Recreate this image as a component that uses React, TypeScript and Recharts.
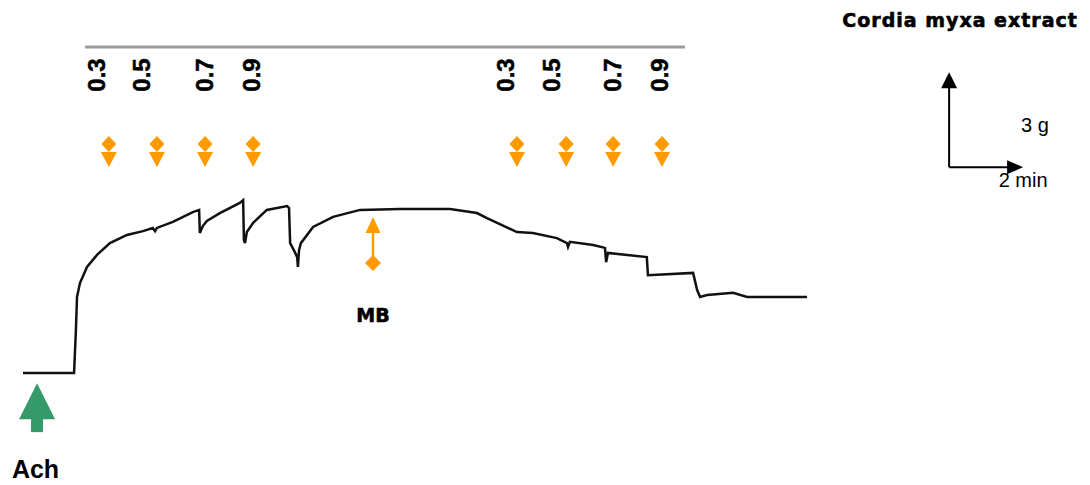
import React from 'react';
import { ComposedChart, Line, Scatter, XAxis, YAxis, ReferenceLine } from 'recharts';

const traceTime = [
  0, 1.38, 1.43, 1.46, 1.54, 1.73, 2.0, 2.35, 2.81, 3.24, 3.51, 3.57, 3.62, 4.05, 4.59, 4.76,
  4.78, 4.86, 4.97, 5.32, 5.86, 5.95, 5.97, 6.0, 6.05, 6.22, 6.59, 7.14, 7.19, 7.22, 7.32,
  7.41, 7.43, 7.46, 7.51, 7.84, 8.38, 9.11, 10.19, 11.54, 12.27, 12.54, 13.35, 13.78, 14.43,
  14.7, 14.73, 14.78, 15.41, 15.73, 15.76, 15.81, 16.86, 16.89, 18.11, 18.22, 18.3, 18.49,
  19.19, 19.57, 20.54, 21.19,
];
const traceTension = [
  0, 0, 1.36, 2.4, 2.84, 3.35, 3.73, 4.1, 4.36, 4.48, 4.58, 4.48, 4.58, 4.77, 5.08, 5.15,
  4.42, 4.64, 4.8, 5.05, 5.37, 5.46, 4.2, 4.1, 4.45, 4.74, 5.15, 5.27, 5.21, 4.1, 3.88,
  3.66, 3.35, 3.88, 4.1, 4.61, 4.93, 5.15, 5.18, 5.18, 5.05, 4.89, 4.45, 4.42, 4.26,
  4.1, 3.98, 4.14, 4.04, 3.95, 3.5, 3.79, 3.66, 3.09, 3.16, 2.62, 2.4, 2.46,
  2.53, 2.4, 2.4, 2.4,
];

// Cordia myxa extract doses (two series of additions)
const doseLabels = ['0.3', '0.5', '0.7', '0.9', '0.3', '0.5', '0.7', '0.9'];
const doseTimes = [2.32, 3.62, 4.92, 6.22, 13.35, 14.68, 15.95, 17.27];
const doseLabelTimes = [2.0, 3.22, 4.92, 6.19, 13.05, 14.3, 15.95, 17.22];
const doseArrowLevel = 7.23;
const doseLabelLevel = 9.41;
const doseBar = { from: 1.68, to: 17.89, level: 10.29 };

const mbTime = 9.46;
const achTime = 0.38;
const scaleOrigin = { t: 25.03, g: 6.5 };
const scaleMinutes = 2;
const scaleGrams = 3;

const ORANGE = '#FF9A00';
const GREEN = '#36996A';
const FONT = "'Liberation Sans', Arial, sans-serif";
const HEAVY = "'Arial Black', 'DejaVu Sans', sans-serif";

const trace = traceTime.map((t, i) => ({ t, g: traceTension[i] }));
const doseArrows = doseTimes.map((t) => ({ t, g: doseArrowLevel }));
const doseTexts = doseLabelTimes.map((t, i) => ({ t, g: doseLabelLevel, text: doseLabels[i] }));

const notes = [
  { t: 28.51, g: 10.93, text: 'Cordia myxa extract', kind: 'title' },
  { t: mbTime, g: 1.62, text: 'MB', kind: 'mb' },
  { t: -0.3, g: -3.32, text: 'Ach', kind: 'ach' },
  { t: scaleOrigin.t + 2.32, g: scaleOrigin.g + 1.1, text: `${scaleGrams} g`, kind: 'scale' },
  { t: scaleOrigin.t + 2.0, g: scaleOrigin.g - 0.63, text: `${scaleMinutes} min`, kind: 'scale' },
];

function DoseArrow({ cx, cy }: any) {
  return (
    <g fill={ORANGE}>
      <polygon points={`${cx},${cy - 8} ${cx + 7.5},${cy} ${cx},${cy + 8} ${cx - 7.5},${cy}`} />
      <polygon points={`${cx - 8},${cy + 8} ${cx + 8},${cy + 8} ${cx},${cy + 23}`} />
    </g>
  );
}

function DoseText({ cx, cy, payload }: any) {
  const x = cx + 8;
  return (
    <text
      x={x}
      y={cy}
      transform={`rotate(-90, ${x}, ${cy})`}
      textAnchor="middle"
      fontFamily={FONT}
      fontWeight="bold"
      fontSize={24}
      fill="#000"
      stroke="#000"
      strokeWidth={0.5}
    >
      {payload.text}
    </text>
  );
}

function MbArrow({ cx, cy }: any) {
  return (
    <g fill={ORANGE} stroke="none">
      <polygon points={`${cx},${cy - 8} ${cx + 8},${cy} ${cx},${cy + 8} ${cx - 8},${cy}`} />
      <line x1={cx} y1={cy} x2={cx} y2={cy - 31} stroke={ORANGE} strokeWidth={2.5} />
      <polygon points={`${cx - 7.5},${cy - 30} ${cx + 7.5},${cy - 30} ${cx},${cy - 46}`} />
    </g>
  );
}

function AchArrow({ cx, cy }: any) {
  return (
    <g fill={GREEN}>
      <polygon points={`${cx},${cy} ${cx + 18},${cy + 36} ${cx - 18},${cy + 36}`} />
      <rect x={cx - 6} y={cy + 35} width={12} height={14} />
    </g>
  );
}

function ArrowHead({ cx, cy, payload }: any) {
  const pts =
    payload.dir === 'up'
      ? `${cx},${cy} ${cx + 8},${cy + 16} ${cx - 8},${cy + 16}`
      : `${cx},${cy} ${cx - 16},${cy - 7} ${cx - 16},${cy + 7}`;
  return <polygon points={pts} fill="#000" />;
}

function Note({ cx, cy, payload }: any) {
  if (payload.kind === 'title') {
    return (
      <text x={cx} y={cy} textAnchor="end" fontFamily={HEAVY} fontWeight={900} fontSize={19} letterSpacing={1} fill="#000" stroke="#000" strokeWidth={0.6}>
        {payload.text}
      </text>
    );
  }
  if (payload.kind === 'scale') {
    return (
      <text x={cx} y={cy} textAnchor="middle" fontFamily={FONT} fontSize={20} fill="#000">
        {payload.text}
      </text>
    );
  }
  if (payload.kind === 'mb') {
    return (
      <text x={cx} y={cy} textAnchor="middle" fontFamily={HEAVY} fontWeight={900} fontSize={19} fill="#000" stroke="#000" strokeWidth={0.6}>
        {payload.text}
      </text>
    );
  }
  return (
    <text x={cx} y={cy} textAnchor="start" fontFamily={FONT} fontWeight="bold" fontSize={25} fill="#000">
      {payload.text}
    </text>
  );
}

export default function App() {
  const xMin = -23 / 37;
  const xMax = (1090 - 23) / 37;
  const yMin = (373 - 485) / 31.67;
  const yMax = 373 / 31.67;

  const scaleHeads = [
    { t: scaleOrigin.t, g: scaleOrigin.g + scaleGrams, dir: 'up' },
    { t: scaleOrigin.t + scaleMinutes, g: scaleOrigin.g, dir: 'right' },
  ];

  return (
    <div style={{ position: 'absolute', left: 0, top: 0, background: '#fff' }}>
      <ComposedChart width={1090} height={485} margin={{ top: 0, right: 0, bottom: 0, left: 0 }}>
        <XAxis type="number" dataKey="t" domain={[xMin, xMax]} hide allowDataOverflow />
        <YAxis type="number" dataKey="g" domain={[yMin, yMax]} hide allowDataOverflow width={0} />
        <ReferenceLine
          segment={[
            { x: doseBar.from, y: doseBar.level },
            { x: doseBar.to, y: doseBar.level },
          ]}
          stroke="#9a9a9a"
          strokeWidth={3}
        />
        <ReferenceLine
          segment={[
            { x: scaleOrigin.t, y: scaleOrigin.g },
            { x: scaleOrigin.t, y: scaleOrigin.g + scaleGrams - 0.3 },
          ]}
          stroke="#000"
          strokeWidth={2}
        />
        <ReferenceLine
          segment={[
            { x: scaleOrigin.t, y: scaleOrigin.g },
            { x: scaleOrigin.t + scaleMinutes - 0.3, y: scaleOrigin.g },
          ]}
          stroke="#000"
          strokeWidth={2}
        />
        <Line
          data={trace}
          dataKey="g"
          type="linear"
          stroke="#111"
          strokeWidth={2.5}
          dot={false}
          isAnimationActive={false}
        />
        <Scatter data={scaleHeads} dataKey="g" shape={ArrowHead} isAnimationActive={false} />
        <Scatter data={doseArrows} dataKey="g" shape={DoseArrow} isAnimationActive={false} />
        <Scatter data={doseTexts} dataKey="g" shape={DoseText} isAnimationActive={false} />
        <Scatter data={[{ t: mbTime, g: 3.47 }]} dataKey="g" shape={MbArrow} isAnimationActive={false} />
        <Scatter data={[{ t: achTime, g: -0.32 }]} dataKey="g" shape={AchArrow} isAnimationActive={false} />
        <Scatter data={notes} dataKey="g" shape={Note} isAnimationActive={false} />
      </ComposedChart>
    </div>
  );
}
